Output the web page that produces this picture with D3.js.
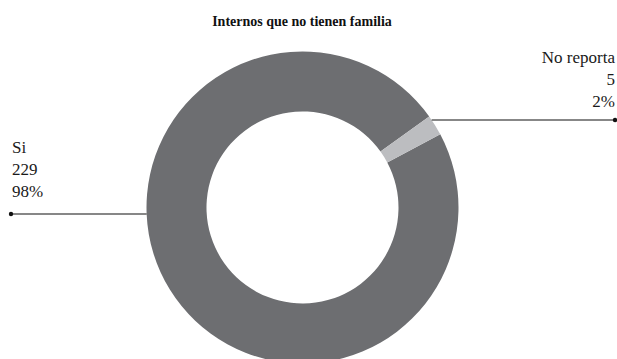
<!DOCTYPE html>
<html>
<head>
<meta charset="utf-8">
<script src="https://cdn.jsdelivr.net/npm/d3@7"></script>
<style>
  html, body { margin: 0; padding: 0; background: #fff; }
  svg { display: block; font-family: "Liberation Serif", "DejaVu Serif", serif; }
</style>
</head>
<body>
<svg id="chart" width="617" height="359"></svg>
<script>
const title = "Internos que no tienen familia";
const categories = ["Si", "No reporta"];
const values = [229, 5];
const percents = ["98%", "2%"];
const colors = ["#6d6e71", "#bcbdc0"];

const svg = d3.select("#chart");
const cx = 302.5, cy = 207.5, rOuter = 156, rInner = 96;

svg.append("text")
  .attr("x", 302).attr("y", 26)
  .attr("text-anchor", "middle")
  .attr("font-size", 14).attr("font-weight", "bold")
  .attr("fill", "#111")
  .text(title);

const start = 62 * Math.PI / 180;
const pie = d3.pie().sort(null).value(d => d.value)
  .startAngle(start).endAngle(start + 2 * Math.PI);
const data = categories.map((c, i) => ({ cat: c, value: values[i], pct: percents[i], color: colors[i] }));
const arcs = pie(data);
const arc = d3.arc().innerRadius(rInner).outerRadius(rOuter);

const g = svg.append("g").attr("transform", `translate(${cx},${cy})`);
g.selectAll("path").data(arcs).enter().append("path")
  .attr("d", arc)
  .attr("fill", d => d.data.color);

const labelCfg = [
  { side: "left", lineY: 214, endX: 11, textX: 12, textY: 153 },
  { side: "right", lineY: 120, endX: 615, textX: 615, textY: 63 }
];
arcs.forEach((a, i) => {
  const cfg = labelCfg[i];
  const dy = cfg.lineY - cy;
  const dx = Math.sqrt(rOuter * rOuter - dy * dy);
  const sx = cfg.side === "left" ? cx - dx : cx + dx;
  svg.append("line")
    .attr("x1", sx).attr("y1", cfg.lineY)
    .attr("x2", cfg.endX).attr("y2", cfg.lineY)
    .attr("stroke", "#111").attr("stroke-width", 1.2);
  svg.append("circle")
    .attr("cx", cfg.endX).attr("cy", cfg.lineY).attr("r", 2.2)
    .attr("fill", "#111");
  const t = svg.append("text")
    .attr("x", cfg.textX).attr("y", cfg.textY)
    .attr("font-size", 17).attr("fill", "#1a1a1a")
    .attr("text-anchor", cfg.side === "left" ? "start" : "end");
  [a.data.cat, String(a.data.value), a.data.pct].forEach((s, k) => {
    t.append("tspan").attr("x", cfg.textX).attr("dy", k === 0 ? 0 : 22).text(s);
  });
});
</script>
</body>
</html>
